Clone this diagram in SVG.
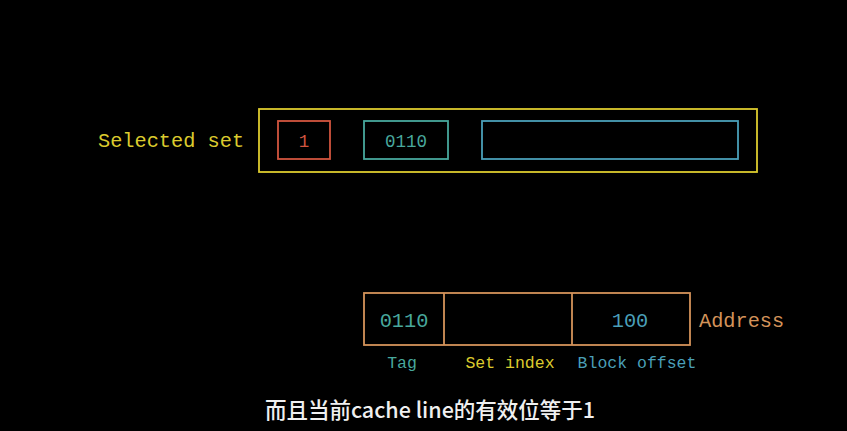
<svg xmlns="http://www.w3.org/2000/svg" width="847" height="431" viewBox="0 0 847 431">
<style>
.m{font-family:"Liberation Mono","DejaVu Sans Mono",monospace;}
.b{font-size:20.3px;}
.s{font-size:16.5px;}
.box{fill:none;stroke-width:1.8;}
</style>
<rect x="0" y="0" width="847" height="431" fill="#000"/>
<g id="selected-set">
<text class="m b" x="98" y="147" fill="#dccb2e">Selected set</text>
<rect class="box" x="259" y="109" width="498" height="63" stroke="#dccb2e"/>
</g>
<g id="valid-bit">
<rect class="box" x="278" y="121" width="52" height="38" stroke="#d2553f"/>
<text class="m" x="304" y="147" font-size="17.5" fill="#d2553f" text-anchor="middle">1</text>
</g>
<g id="line-tag">
<rect class="box" x="364" y="121" width="84" height="38" stroke="#48a89d"/>
<text class="m" x="406" y="147" font-size="17.5" fill="#48a89d" text-anchor="middle">0110</text>
</g>
<g id="line-block">
<rect class="box" x="482" y="121" width="256" height="38" stroke="#4a9fb8"/>
</g>
<g id="address">
<rect class="box" x="364" y="293" width="326" height="52" stroke="#d4935a"/>
<line x1="444" y1="293" x2="444" y2="345" stroke="#d4935a" stroke-width="1.8"/>
<line x1="572" y1="293" x2="572" y2="345" stroke="#d4935a" stroke-width="1.8"/>
<text class="m b" x="404" y="327" fill="#48a89d" text-anchor="middle">0110</text>
<text class="m b" x="630" y="327" fill="#4a9fb8" text-anchor="middle">100</text>
<text class="m b" x="699" y="327" fill="#d4935a">Address</text>
</g>
<g id="labels">
<text class="m s" x="402" y="368" fill="#48a89d" text-anchor="middle">Tag</text>
<text class="m s" x="510" y="368" fill="#dccb2e" text-anchor="middle">Set index</text>
<text class="m s" x="637" y="368" fill="#4a9fb8" text-anchor="middle">Block offset</text>
</g>
<g id="connectors"></g>
<text x="430" y="418" font-family="'Noto Sans CJK SC',sans-serif" font-size="21.5" font-weight="500" fill="#f0f0f0" text-anchor="middle">而且当前cache line的有效位等于1</text>
</svg>
